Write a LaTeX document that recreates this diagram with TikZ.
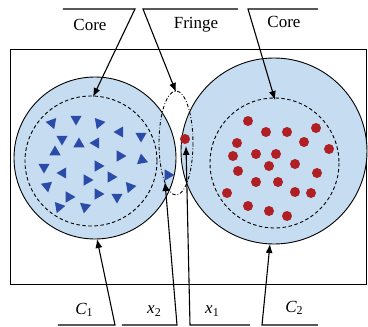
\documentclass[tikz,border=0pt]{standalone}
\usepackage{fontspec}
\setmainfont{Liberation Serif}
\usetikzlibrary{arrows.meta}
\definecolor{cfill}{HTML}{C6DCF1}
\definecolor{tblue}{HTML}{2B4BA8}
\definecolor{dred}{HTML}{AF1F24}
\tikzset{
  ring/.style={draw=black, line width=0.9pt, fill=cfill},
  inner/.style={draw=black, line width=0.9pt, dash pattern=on 3.5pt off 2.5pt},
  fringe/.style={draw=black, line width=0.9pt, dash pattern=on 3.5pt off 2pt on 0.8pt off 2pt},
  lead/.style={draw=black, line width=1.1pt, -{Latex[length=9pt,width=7pt]}},
  lbl/.style={font=\fontsize{17}{20}\selectfont, inner sep=0pt},
  dot/.style={fill=dred},
  tri/.style={fill=tblue}
}
\newcommand{\mytri}[3]{\fill[tri] ({#1+6.5*cos(#3)},{#2+6.5*sin(#3)}) -- ({#1+6.5*cos(#3+120)},{#2+6.5*sin(#3+120)}) -- ({#1+6.5*cos(#3+240)},{#2+6.5*sin(#3+240)}) -- cycle;}
\begin{document}
\begin{tikzpicture}[x=1pt,y=-1pt]
\useasboundingbox (0,0) rectangle (368,327);
% frame
\draw[line width=0.9pt] (10,49) rectangle (366,284);
% circles
\draw[ring] (95,158) circle (81);
\draw[ring] (274,151) circle (93);
\draw[inner] (91,161) ellipse (66 and 65);
\draw[inner] (274.5,163) ellipse (64.5 and 65);
% triangles
\mytri{52}{123}{70}
\mytri{76}{119}{90}
\mytri{99}{123}{110}
\mytri{120}{132}{180}
\mytri{141}{136}{90}
\mytri{62}{139}{90}
\mytri{79}{144}{270}
\mytri{96}{143}{180}
\mytri{55}{152}{270}
\mytri{120}{156}{120}
\mytri{142}{160}{20}
\mytri{44}{167}{90}
\mytri{98}{166}{0}
\mytri{63}{173}{180}
\mytri{87}{180}{0}
\mytri{111}{177}{0}
\mytri{168}{175}{0}
\mytri{47}{186}{200}
\mytri{98}{194}{120}
\mytri{130}{187}{110}
\mytri{69}{197}{0}
\mytri{117}{197}{90}
\mytri{59}{207}{230}
\mytri{85}{207}{100}
% dots
\foreach \p in {(185,139),(248,121),(266,132),(287,132),(316,128),(237,143),(304,142),(329,149),(233,156),(256,154),(276,154),(269,166),(295,164),(238,171),(317,173),(256,182),(278,182),(227,193),(295,192),(311,193),(248,206),(269,211),(287,216)}
  \fill[dot] \p circle (5);
% fringe ellipse
\draw[fringe] (176,143) ellipse (17 and 52);
% labels
\node[lbl] (coreL) at (90,25) {Core};
\node[lbl] (fringeT) at (196,25) {Fringe};
\node[lbl] (coreR) at (284,22) {Core};
\node[lbl] (c1) at (84,310) {\itshape C\upshape\raisebox{-0.35ex}{\fontsize{12}{12}\selectfont 1}};
\node[lbl] (x2) at (154,311) {\itshape x\upshape\raisebox{-0.35ex}{\fontsize{12}{12}\selectfont 2}};
\node[lbl] (x1) at (212,311) {\itshape x\upshape\raisebox{-0.35ex}{\fontsize{12}{12}\selectfont 1}};
\node[lbl] (c2) at (294,308) {\itshape C\upshape\raisebox{-0.35ex}{\fontsize{12}{12}\selectfont 2}};
% leader coordinates
\coordinate (a0) at (63,9);   \coordinate (a1) at (135,9);  \coordinate (a2) at (93,97);
\coordinate (b0) at (238,9);  \coordinate (b1) at (143,9);  \coordinate (b2) at (176,92);
\coordinate (d0) at (318,9);  \coordinate (d1) at (248,9);  \coordinate (d2) at (275,100);
\coordinate (e0) at (58,325); \coordinate (e1) at (115,325); \coordinate (e2) at (97,239);
\coordinate (f0) at (122,325);\coordinate (f1) at (177,325); \coordinate (f2) at (165,182);
\coordinate (g0) at (250,325);\coordinate (g1) at (190,325); \coordinate (g2) at (186,146);
\coordinate (h0) at (318,325);\coordinate (h1) at (262,325); \coordinate (h2) at (270,244);
\draw[lead] (a0) -- (a1) -- (a2);
\draw[lead] (b0) -- (b1) -- (b2);
\draw[lead] (d0) -- (d1) -- (d2);
\draw[lead] (e0) -- (e1) -- (e2);
\draw[lead] (f0) -- (f1) -- (f2);
\draw[lead] (g0) -- (g1) -- (g2);
\draw[lead] (h0) -- (h1) -- (h2);
\end{tikzpicture}
\end{document}
